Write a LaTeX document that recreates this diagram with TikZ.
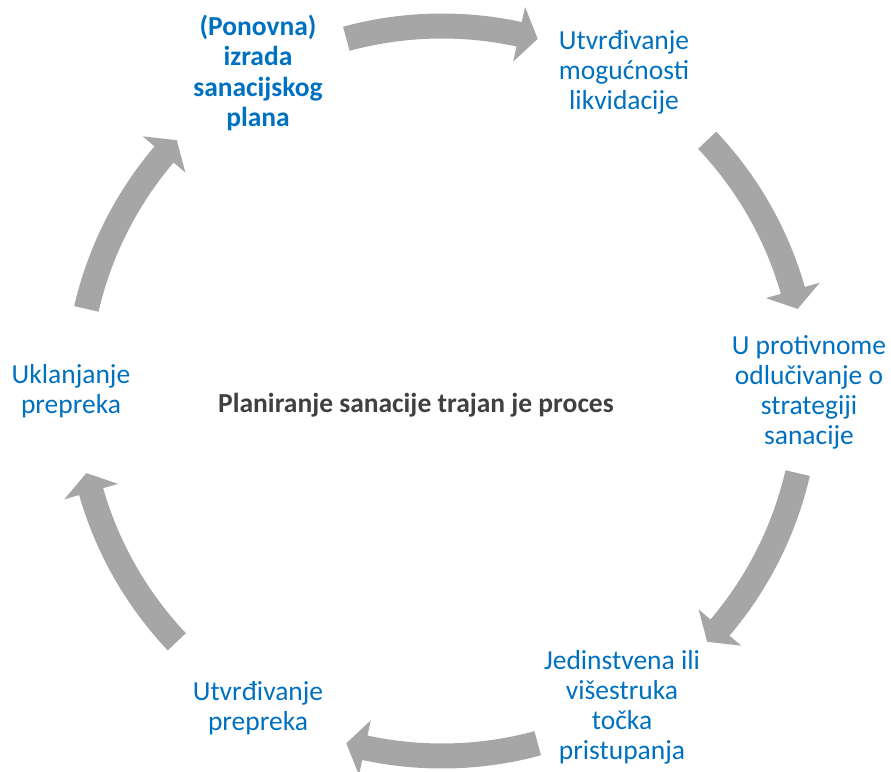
\documentclass[tikz,border=0pt]{standalone}
\usepackage{fontspec}
\setmainfont{Carlito}
\definecolor{txtblue}{HTML}{0070C0}
\definecolor{arrgray}{HTML}{A6A6A6}
\definecolor{ctrgray}{HTML}{404040}
\begin{document}
\begin{tikzpicture}[x=1pt,y=-1pt,
  lbl/.style={text=txtblue, align=center, font=\fontsize{27.5}{30}\selectfont, inner sep=0pt},
  lblbold/.style={lbl, font=\bfseries\fontsize{27.5}{30.5}\selectfont},
  ctr/.style={text=ctrgray, font=\bfseries\fontsize{27.5}{30}\selectfont, inner sep=0pt},
  blk/.style={fill=arrgray, draw=none}]
\useasboundingbox (0,0) rectangle (891,771);
\coordinate (C) at (442,391);
% cycle arrows
\foreach \c in {90,28.2,-28.2,-90,-151.8,151.8}{
  \pgfmathsetmacro\ta{\c+15.2}
  \pgfmathsetmacro\sa{\c-12.2}
  \pgfmathsetmacro\pa{\c-15.2}
  \fill[blk] ([shift={(\ta:377.5pt)}]C) arc[start angle=\ta, end angle=\sa, radius=377.5pt]
    -- ([shift={(\sa:393pt)}]C) -- ([shift={(\pa:365pt)}]C) -- ([shift={(\sa:337pt)}]C)
    -- ([shift={(\sa:352.5pt)}]C) arc[start angle=\sa, end angle=\ta, radius=352.5pt] -- cycle;
}
\node[lblbold] (n1) at (258,73) {(Ponovna)\\izrada\\sanacijskog\\plana};
\node[lbl] (n2) at (624,72) {Utvrđivanje\\mogućnosti\\likvidacije};
\node[lbl] (n3) at (809,392) {U protivnome\\odlučivanje o\\strategiji\\sanacije};
\node[lbl] (n4) at (622,707) {Jedinstvena ili\\višestruka\\točka\\pristupanja};
\node[lbl] (n5) at (258,708) {Utvrđivanje\\prepreka};
\node[lbl] (n6) at (71,391) {Uklanjanje\\prepreka};
\node[ctr] (c0) at (416,405) {Planiranje sanacije trajan je proces};
\end{tikzpicture}
\end{document}
